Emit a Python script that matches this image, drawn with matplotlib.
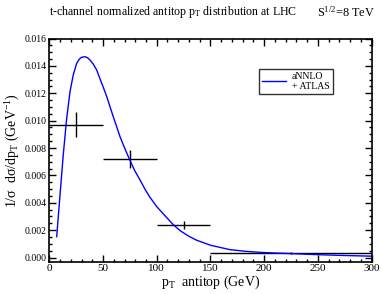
import matplotlib
matplotlib.use("Agg")
import matplotlib.pyplot as plt
from matplotlib.ticker import MultipleLocator, FormatStrFormatter

# curve (aNNLO)
curve_pt = [6.9, 10.0, 13.0, 16.2, 19.3, 22.3, 25.5, 28.0, 30.1, 33.2, 35.5, 37.9, 41.0, 44.1, 47.0,
            50.2, 53.5, 56.5, 59.5, 62.7, 65.8, 68.9, 72.0, 75.1, 79.5, 84.4, 89.0, 93.7, 100.0, 106.0,
            111.0, 115.4, 122.0, 130.0, 137.0, 150.0, 168.0, 182.0, 196.0, 210.0, 225.0, 250.0, 275.0, 300.0]
curve_y = [0.00153, 0.00458, 0.0075, 0.01017, 0.01212, 0.01334, 0.01419, 0.01450, 0.01463, 0.01467, 0.01460,
           0.01443, 0.01412, 0.0137, 0.0131, 0.01245, 0.01175, 0.01102, 0.01030, 0.00956, 0.00883, 0.00823,
           0.00765, 0.0071, 0.00635, 0.00567, 0.00500, 0.00440, 0.00372, 0.0032, 0.00277, 0.0024, 0.00195,
           0.00155, 0.00127, 0.0009, 0.00058, 0.00046, 0.00038, 0.00033, 0.00029, 0.00021, 0.00015, 0.0001]

# ATLAS data
data_pt = [25, 75, 125, 225]
data_xerr = [25, 25, 25, 75]
data_y = [0.0097, 0.0072, 0.0024, 0.00032]
data_yerr = [0.0009, 0.00067, 0.0003, 0.00005]

plt.rcParams['font.family'] = ['Liberation Serif', 'DejaVu Serif']
plt.rcParams['mathtext.fontset'] = 'custom'
plt.rcParams['mathtext.rm'] = 'Liberation Serif'
plt.rcParams['mathtext.it'] = 'Liberation Serif'

fig = plt.figure(figsize=(3.82, 2.94), dpi=100)
ax = fig.add_axes([0.129, 0.110, 0.844, 0.759])

ax.errorbar(data_pt, data_y, xerr=data_xerr, yerr=data_yerr, fmt='none', ecolor='black', elinewidth=1.0, capsize=0)
ax.plot(curve_pt, curve_y, color='#0000ff', lw=1.0, label='aNNLO\n+ ATLAS')

ax.set_xlim(0, 300)
ax.set_ylim(-0.0003, 0.016)
ax.xaxis.set_major_locator(MultipleLocator(50))
ax.xaxis.set_minor_locator(MultipleLocator(10))
ax.yaxis.set_major_locator(MultipleLocator(0.002))
ax.yaxis.set_minor_locator(MultipleLocator(0.0005))
ax.yaxis.set_major_formatter(FormatStrFormatter('%.3f'))
ax.tick_params(which='both', direction='in', top=True, right=True, width=1.0)
ax.tick_params(which='major', length=5, labelsize=7, pad=2)
ax.tick_params(which='minor', length=2.5)
ax.tick_params(axis='x', labelsize=8)
for s in ax.spines.values():
    s.set_linewidth(1.2)

ax.set_xlabel(r'p$_\mathrm{T}$  antitop (GeV)', fontsize=10, labelpad=0)
ax.set_ylabel(r'1/σ  dσ/dp$_\mathrm{T}$ (GeV$^{-1}$)', fontsize=10, labelpad=2)

fig.text(0.452, 0.958, r't-channel normalized antitop p$_\mathrm{T}$ distribution at LHC', fontsize=8.6, ha='center', va='center')
fig.text(0.906, 0.958, r'S$^{1/2}$=8 TeV', fontsize=8.8, ha='center', va='center')

leg = ax.legend(loc='upper left', bbox_to_anchor=(0.65, 0.865), fontsize=7, frameon=True, fancybox=False,
                edgecolor='black', handlelength=2.5, borderpad=0.3, labelspacing=0.1, handletextpad=0.6,
                borderaxespad=0)
leg.get_frame().set_linewidth(1.0)

fig.savefig('out.png', dpi=100)
